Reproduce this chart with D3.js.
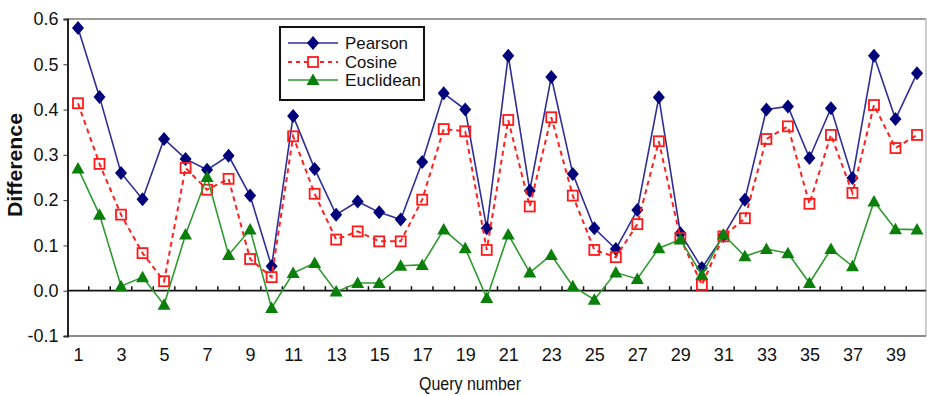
<!DOCTYPE html>
<html>
<head>
<meta charset="utf-8">
<script src="https://cdn.jsdelivr.net/npm/d3@7"></script>
<style>
  html, body { margin: 0; padding: 0; background: #fff; }
  svg { display: block; }
  text { font-family: "Liberation Sans", Arial, sans-serif; }
</style>
</head>
<body>
<svg id="chart" width="927" height="396"></svg>
<script>
const queries = d3.range(1, 41);
const pearson = [0.58, 0.428, 0.26, 0.202, 0.335, 0.291, 0.267, 0.298, 0.21, 0.054,
                 0.386, 0.269, 0.168, 0.197, 0.173, 0.157, 0.284, 0.436, 0.40, 0.138,
                 0.519, 0.221, 0.472, 0.258, 0.138, 0.092, 0.178, 0.427, 0.127, 0.05,
                 0.121, 0.201, 0.40, 0.407, 0.293, 0.403, 0.249, 0.519, 0.379, 0.48];
const cosine = [0.414, 0.28, 0.168, 0.083, 0.021, 0.271, 0.223, 0.247, 0.07, 0.03,
                0.341, 0.214, 0.113, 0.131, 0.109, 0.109, 0.201, 0.357, 0.352, 0.09,
                0.377, 0.186, 0.383, 0.21, 0.09, 0.074, 0.147, 0.33, 0.116, 0.013,
                0.12, 0.16, 0.335, 0.363, 0.192, 0.344, 0.216, 0.41, 0.315, 0.344];
const euclidean = [0.27, 0.168, 0.01, 0.03, -0.031, 0.124, 0.251, 0.079, 0.135, -0.038,
                   0.039, 0.061, -0.002, 0.017, 0.017, 0.055, 0.057, 0.135, 0.094, -0.016,
                   0.124, 0.04, 0.079, 0.01, -0.02, 0.04, 0.026, 0.094, 0.113, 0.035,
                   0.124, 0.076, 0.092, 0.083, 0.017, 0.092, 0.054, 0.197, 0.136, 0.135];
const yTicks = [-0.1, 0.0, 0.1, 0.2, 0.3, 0.4, 0.5, 0.6];
const xTickLabels = queries.filter(d => d % 2 === 1);
const seriesNames = ["Pearson", "Cosine", "Euclidean"];

const svg = d3.select("#chart");
const pLeft = 67.5, pRight = 926, pTop = 19, pBottom = 336;

const x = d3.scalePoint().domain(queries).range([78, 917]);
const xBand = d3.scaleBand().domain(queries).range([x(1) - x.step() / 2, x(40) + x.step() / 2]);
const y = d3.scaleLinear().domain([-0.1, 0.6]).range([pBottom, pTop]);

// frame
svg.append("line").attr("x1", pLeft).attr("x2", pRight).attr("y1", pTop).attr("y2", pTop)
  .attr("stroke", "#9a9a9a").attr("stroke-width", 2);
svg.append("line").attr("x1", pRight).attr("x2", pRight).attr("y1", pTop).attr("y2", pBottom)
  .attr("stroke", "#bdbdbd").attr("stroke-width", 1.5);
svg.append("line").attr("x1", pLeft).attr("x2", pRight).attr("y1", pBottom).attr("y2", pBottom)
  .attr("stroke", "#8a8a8a").attr("stroke-width", 2);

// y axis
const yAxis = svg.append("g").attr("transform", `translate(${pLeft},0)`)
  .call(d3.axisLeft(y).tickValues(yTicks).tickSize(4).tickPadding(5)
    .tickFormat(d => d.toFixed(1)));
yAxis.select(".domain").attr("stroke", "#222").attr("stroke-width", 2);
yAxis.selectAll(".tick line").attr("stroke", "#333");
yAxis.selectAll("text").attr("font-family", "Liberation Sans, Arial, sans-serif")
  .attr("font-size", 18).attr("fill", "#111");

// x axis labels
const xAxis = svg.append("g").attr("transform", `translate(0,${pBottom})`)
  .call(d3.axisBottom(x).tickValues(xTickLabels).tickSize(0).tickPadding(12));
xAxis.select(".domain").remove();
xAxis.selectAll("text").attr("font-family", "Liberation Sans, Arial, sans-serif")
  .attr("font-size", 18).attr("fill", "#111");

// zero line with boundary ticks
svg.append("line").attr("x1", pLeft).attr("x2", pRight).attr("y1", y(0)).attr("y2", y(0))
  .attr("stroke", "#111").attr("stroke-width", 1.8);
svg.append("g").selectAll("line").data(queries).join("line")
  .attr("x1", d => xBand(d) + xBand.bandwidth()).attr("x2", d => xBand(d) + xBand.bandwidth())
  .attr("y1", y(0)).attr("y2", y(0) - 4.5)
  .attr("stroke", "#111").attr("stroke-width", 1.5);

// axis titles
svg.append("text").attr("transform", "translate(22,165) rotate(-90)")
  .attr("text-anchor", "middle")
  .attr("font-weight", "bold").attr("font-size", 20).attr("fill", "#111")
  .attr("textLength", 104).attr("lengthAdjust", "spacingAndGlyphs").text("Difference");
svg.append("text").attr("x", 470).attr("y", 390)
  .attr("text-anchor", "middle").attr("font-size", 19).attr("fill", "#111")
  .attr("textLength", 102).attr("lengthAdjust", "spacingAndGlyphs").text("Query number");

// series
const diamond = "M0,-7L6,0L0,7L-6,0Z";
const triangle = "M0,-6.5L6.5,5L-6.5,5Z";
const line = d3.line().x((d, i) => x(queries[i])).y(d => y(d));

// Pearson
svg.append("path").datum(pearson).attr("d", line).attr("fill", "none")
  .attr("stroke", "#2e2e98").attr("stroke-width", 1.6);
svg.append("g").selectAll("path").data(pearson).join("path")
  .attr("d", diamond).attr("transform", (d, i) => `translate(${x(queries[i])},${y(d)})`)
  .attr("fill", "#00007a");

// Cosine
svg.append("path").datum(cosine).attr("d", line).attr("fill", "none")
  .attr("stroke", "#ff2020").attr("stroke-width", 2).attr("stroke-dasharray", "5,4");
svg.append("g").selectAll("rect").data(cosine).join("rect")
  .attr("x", (d, i) => x(queries[i]) - 5).attr("y", d => y(d) - 5)
  .attr("width", 10).attr("height", 10)
  .attr("fill", "none").attr("stroke", "#ff1a1a").attr("stroke-width", 1.8);

// Euclidean
svg.append("path").datum(euclidean).attr("d", line).attr("fill", "none")
  .attr("stroke", "#2f9a2f").attr("stroke-width", 1.6);
svg.append("g").selectAll("path").data(euclidean).join("path")
  .attr("d", triangle).attr("transform", (d, i) => `translate(${x(queries[i])},${y(d)})`)
  .attr("fill", "#0a800a");

// legend
const lg = svg.append("g");
lg.append("rect").attr("x", 280).attr("y", 27).attr("width", 144).attr("height", 73)
  .attr("fill", "#fff").attr("stroke", "#111").attr("stroke-width", 2);
const ly = [43, 62, 80];
const legendWidths = [63, 52, 76];
seriesNames.forEach((name, i) => {
  const yy = ly[i];
  if (i === 0) {
    lg.append("line").attr("x1", 288).attr("x2", 338).attr("y1", yy).attr("y2", yy)
      .attr("stroke", "#2e2e98").attr("stroke-width", 1.6);
    lg.append("path").attr("d", diamond).attr("transform", `translate(313,${yy})`).attr("fill", "#00007a");
  } else if (i === 1) {
    lg.append("line").attr("x1", 288).attr("x2", 338).attr("y1", yy).attr("y2", yy)
      .attr("stroke", "#ff2020").attr("stroke-width", 2).attr("stroke-dasharray", "4,4");
    lg.append("rect").attr("x", 308).attr("y", yy - 5).attr("width", 10).attr("height", 10)
      .attr("fill", "#fff").attr("stroke", "#ff1a1a").attr("stroke-width", 1.8);
  } else {
    lg.append("line").attr("x1", 288).attr("x2", 338).attr("y1", yy).attr("y2", yy)
      .attr("stroke", "#2f9a2f").attr("stroke-width", 1.6);
    lg.append("path").attr("d", triangle).attr("transform", `translate(313,${yy})`).attr("fill", "#0a800a");
  }
  lg.append("text").attr("x", 345).attr("y", yy + 6)
    .attr("font-size", 17).attr("fill", "#111")
    .attr("textLength", legendWidths[i]).attr("lengthAdjust", "spacingAndGlyphs").text(name);
});
</script>
</body>
</html>
